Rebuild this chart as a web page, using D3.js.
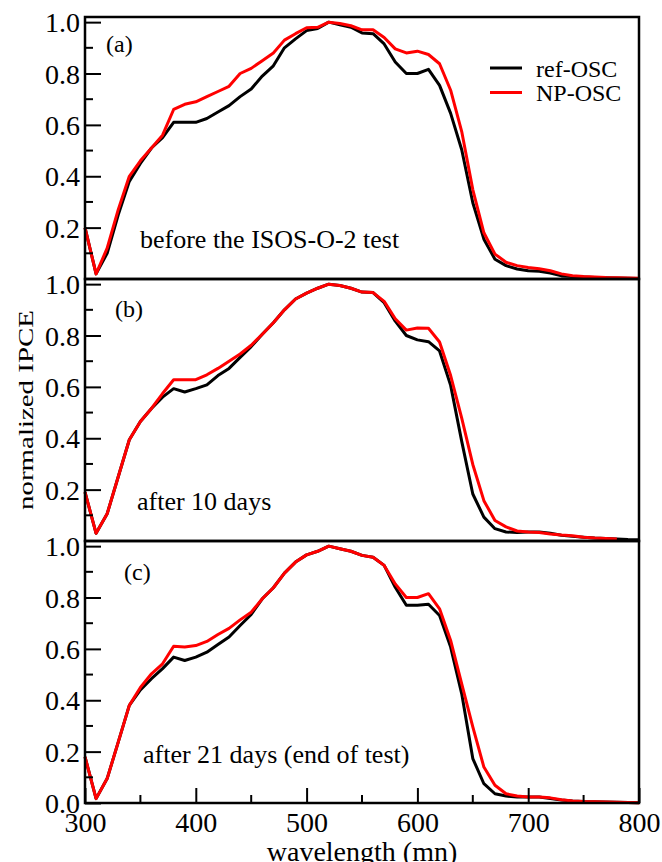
<!DOCTYPE html>
<html>
<head>
<meta charset="utf-8">
<script src="https://cdn.jsdelivr.net/npm/d3@7"></script>
<style>
  body { margin: 0; background: #fff; }
  text { font-family: "Liberation Serif", "DejaVu Serif", serif; fill: #000; }
</style>
</head>
<body>
<div id="chart"></div>
<script>
// ---------------------------------------
// 1. Data
// ---------------------------------------
const wavelengths = [300, 310, 320, 330, 340, 350, 360, 370, 380, 390,
  400, 410, 420, 430, 440, 450, 460, 470, 480, 490,
  500, 510, 520, 530, 540, 550, 560, 570, 580, 590,
  600, 610, 620, 630, 640, 650, 660, 670, 680, 690,
  700, 710, 720, 730, 740, 750, 760, 770, 780, 790, 800];

// (a) before the test
const refA = [0.20, 0.02, 0.10, 0.25, 0.38, 0.45, 0.51, 0.55, 0.61, 0.61,
  0.61, 0.625, 0.65, 0.675, 0.71, 0.74, 0.79, 0.83, 0.90, 0.935,
  0.967, 0.975, 1.0, 0.99, 0.98, 0.958, 0.955, 0.915, 0.845, 0.80,
  0.80, 0.816, 0.754, 0.645, 0.503, 0.297, 0.155, 0.077, 0.052, 0.039,
  0.032, 0.03, 0.023, 0.012, 0.01, 0.008, 0.006, 0.005, 0.004, 0.003, 0.002];
const npA = [0.20, 0.02, 0.12, 0.27, 0.40, 0.46, 0.51, 0.56, 0.66, 0.68,
  0.69, 0.71, 0.73, 0.75, 0.80, 0.82, 0.85, 0.88, 0.93, 0.955,
  0.978, 0.98, 1.0, 0.995, 0.986, 0.97, 0.97, 0.94, 0.896, 0.88,
  0.887, 0.874, 0.838, 0.735, 0.574, 0.348, 0.18, 0.097, 0.065, 0.052,
  0.045, 0.04, 0.032, 0.02, 0.013, 0.01, 0.008, 0.006, 0.005, 0.004, 0.003];

// (b) after 10 days
const refB = [0.19, 0.03, 0.106, 0.25, 0.394, 0.465, 0.516, 0.56, 0.593, 0.58,
  0.593, 0.608, 0.644, 0.672, 0.715, 0.757, 0.805, 0.85, 0.90, 0.942,
  0.965, 0.984, 1.0, 0.995, 0.984, 0.969, 0.967, 0.928, 0.856, 0.80,
  0.783, 0.776, 0.74, 0.606, 0.388, 0.183, 0.093, 0.048, 0.035, 0.033,
  0.035, 0.035, 0.03, 0.022, 0.018, 0.015, 0.012, 0.01, 0.008, 0.006, 0.005];
const npB = [0.19, 0.03, 0.106, 0.25, 0.394, 0.465, 0.516, 0.574, 0.628, 0.628,
  0.628, 0.647, 0.672, 0.70, 0.728, 0.762, 0.805, 0.85, 0.90, 0.942,
  0.965, 0.984, 1.0, 0.995, 0.984, 0.969, 0.967, 0.933, 0.865, 0.821,
  0.829, 0.828, 0.775, 0.644, 0.478, 0.298, 0.157, 0.08, 0.055, 0.039,
  0.035, 0.033, 0.027, 0.023, 0.02, 0.015, 0.012, 0.01, 0.008, null, null];

// (c) after 21 days
const refC = [0.18, 0.017, 0.095, 0.237, 0.38, 0.44, 0.484, 0.523, 0.568, 0.555,
  0.568, 0.587, 0.617, 0.646, 0.691, 0.734, 0.795, 0.838, 0.895, 0.938,
  0.966, 0.98, 1.0, 0.99, 0.98, 0.964, 0.957, 0.925, 0.84, 0.77,
  0.77, 0.774, 0.73, 0.607, 0.425, 0.173, 0.075, 0.036, 0.027, 0.023,
  0.023, 0.023, 0.017, 0.012, 0.008, 0.006, 0.005, 0.004, 0.003, 0.002, 0.001];
const npC = [0.18, 0.017, 0.095, 0.237, 0.38, 0.45, 0.503, 0.542, 0.61, 0.607,
  0.613, 0.629, 0.656, 0.68, 0.713, 0.743, 0.795, 0.838, 0.895, 0.938,
  0.966, 0.98, 1.0, 0.99, 0.98, 0.964, 0.957, 0.925, 0.853, 0.80,
  0.80, 0.815, 0.756, 0.633, 0.464, 0.296, 0.14, 0.069, 0.036, 0.027,
  0.023, 0.023, 0.02, 0.013, 0.008, 0.006, 0.005, 0.004, 0.003, 0.002, 0.001];

const panelLetters = ["(a)", "(b)", "(c)"];
const panelNotes = ["before the ISOS-O-2 test", "after 10 days", "after 21 days (end of test)"];
const seriesNames = ["ref-OSC", "NP-OSC"];
const seriesColors = ["#000000", "#ff0000"];
const xTicks = [300, 400, 500, 600, 700, 800];
const xMinor = [350, 450, 550, 650, 750];
const yTicks = [0, 0.2, 0.4, 0.6, 0.8, 1.0];
const yMinor = [0.1, 0.3, 0.5, 0.7, 0.9];

const panels = [
  { letter: panelLetters[0], note: panelNotes[0], series: [refA, npA] },
  { letter: panelLetters[1], note: panelNotes[1], series: [refB, npB] },
  { letter: panelLetters[2], note: panelNotes[2], series: [refC, npC] }
];

// ---------------------------------------
// 2. Layout
// ---------------------------------------
const width = 662;
const height = 862;
const left = 85, right = 639;
const top0 = 17, panelH = 262;

const svg = d3.select("#chart")
  .append("svg")
  .attr("width", width)
  .attr("height", height);

const x = d3.scaleLinear().domain([300, 800]).range([left, right]);

// ---------------------------------------
// 3. Draw each panel
// ---------------------------------------
panels.forEach((p, i) => {
  const pTop = top0 + i * panelH;
  const pBot = pTop + panelH;
  const y = d3.scaleLinear().domain([0, 1.02]).range([pBot, pTop]);
  const g = svg.append("g");

  // curves (ref first, NP on top)
  p.series.forEach((vals, k) => {
    const line = d3.line()
      .defined((d, j) => vals[j] != null)
      .x((d, j) => x(wavelengths[j]))
      .y((d, j) => y(vals[j]));
    g.append("path")
      .datum(vals)
      .attr("d", line)
      .attr("fill", "none")
      .attr("stroke", seriesColors[k])
      .attr("stroke-width", 3)
      .attr("stroke-linejoin", "round");
  });

  // y axis: ticks pointing inside
  const labels = i === 2 ? yTicks : yTicks.slice(1);
  const yAxis = d3.axisLeft(y)
    .tickValues(labels)
    .tickFormat(d3.format(".1f"))
    .tickSizeInner(-16)
    .tickSizeOuter(0)
    .tickPadding(5);
  const ya = g.append("g")
    .attr("transform", `translate(${left},0)`)
    .call(yAxis);
  ya.select(".domain").remove();
  ya.selectAll("line").attr("stroke", "#000").attr("stroke-width", 2);
  ya.selectAll("text")
    .style("font-family", "Liberation Serif, serif")
    .style("font-size", "28px")
    .attr("x", -5)
    .attr("dy", "0.34em");

  g.selectAll(".yminor")
    .data(yMinor)
    .enter()
    .append("line")
    .attr("x1", left).attr("x2", left + 8)
    .attr("y1", d => y(d)).attr("y2", d => y(d))
    .attr("stroke", "#000").attr("stroke-width", 2);

  // frame
  g.append("rect")
    .attr("x", left).attr("y", pTop)
    .attr("width", right - left).attr("height", panelH)
    .attr("fill", "none")
    .attr("stroke", "#000")
    .attr("stroke-width", 2.5);

  // texts
  const letterPos = [[106, 52], [115, 317], [124, 580]];
  g.append("text")
    .attr("x", letterPos[i][0]).attr("y", letterPos[i][1])
    .style("font-size", "24px")
    .text(p.letter);

  const notePos = [[140, 248], [137, 510], [143, 763]];
  g.append("text")
    .attr("x", notePos[i][0]).attr("y", notePos[i][1])
    .style("font-size", "26px")
    .text(p.note);

  // x axis only on bottom panel
  if (i === 2) {
    const xAxis = d3.axisBottom(x)
      .tickValues(xTicks)
      .tickFormat(d3.format("d"))
      .tickSizeInner(-15)
      .tickSizeOuter(0)
      .tickPadding(9);
    const xa = g.append("g")
      .attr("transform", `translate(0,${pBot})`)
      .call(xAxis);
    xa.select(".domain").remove();
    xa.selectAll("line").attr("stroke", "#000").attr("stroke-width", 2);
    xa.selectAll("text")
      .style("font-family", "Liberation Serif, serif")
      .style("font-size", "28px")
      .attr("y", 9)
      .attr("dy", "0.71em");

    g.selectAll(".xminor")
      .data(xMinor)
      .enter()
      .append("line")
      .attr("x1", d => x(d)).attr("x2", d => x(d))
      .attr("y1", pBot).attr("y2", pBot - 8)
      .attr("stroke", "#000").attr("stroke-width", 2);
  }
});

// ---------------------------------------
// 4. Legend (top panel)
// ---------------------------------------
const legend = svg.append("g");
seriesNames.forEach((name, k) => {
  const ly = 68 + k * 24.5;
  legend.append("line")
    .attr("x1", 490).attr("x2", 522)
    .attr("y1", ly).attr("y2", ly)
    .attr("stroke", seriesColors[k])
    .attr("stroke-width", 3);
  legend.append("text")
    .attr("x", 536).attr("y", ly + 8.5)
    .style("font-size", "24px")
    .text(name);
});

// ---------------------------------------
// 5. Axis titles
// ---------------------------------------
svg.append("text")
  .attr("x", (left + right) / 2)
  .attr("y", 861)
  .attr("text-anchor", "middle")
  .style("font-size", "28px")
  .text("wavelength (mn)");

svg.append("text")
  .attr("transform", "translate(33,410) rotate(-90)")
  .attr("text-anchor", "middle")
  .attr("textLength", 200)
  .attr("lengthAdjust", "spacingAndGlyphs")
  .style("font-size", "20px")
  .text("normalized IPCE");
</script>
</body>
</html>
